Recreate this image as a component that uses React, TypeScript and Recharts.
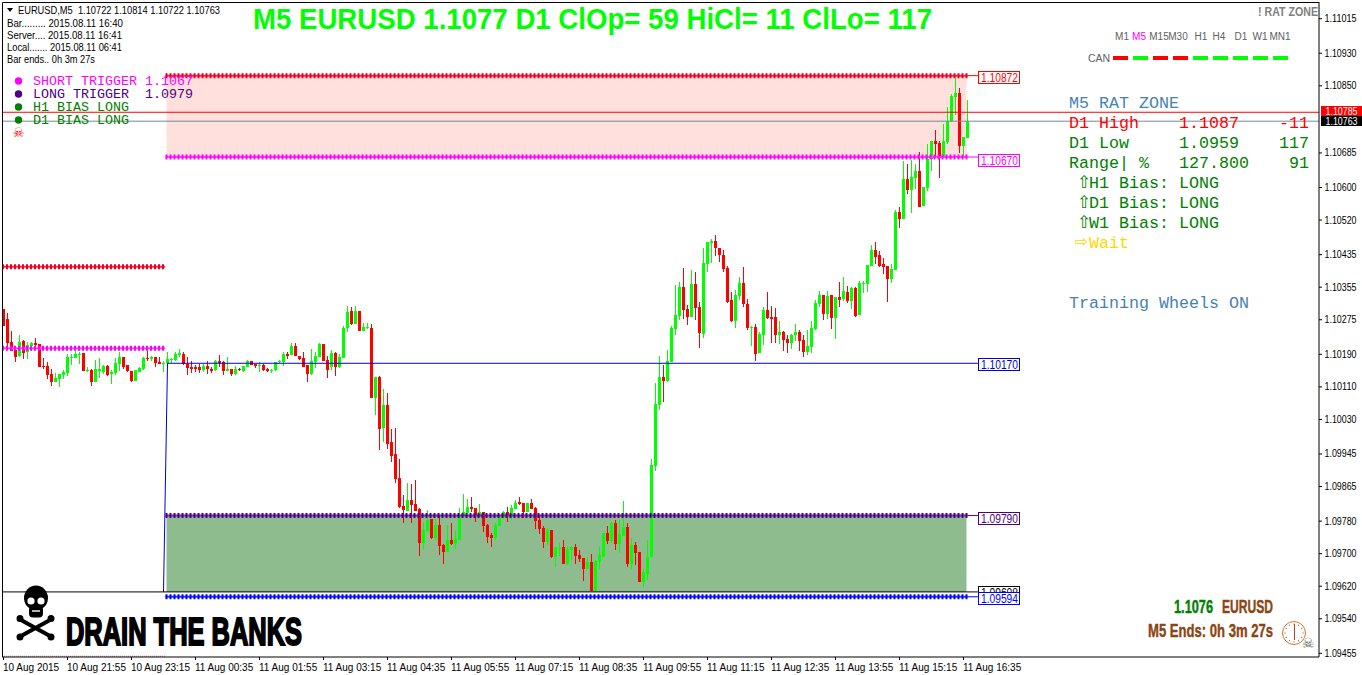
import React from "react";
import {
  Bar,
  ComposedChart,
  ReferenceArea,
  ReferenceDot,
  ReferenceLine,
  XAxis,
  YAxis,
} from "recharts";

// all prices are in points (1.10297 -> 110297)
const opens = [
  110301,110276,110220,110200,110186,110222,110194,110211,110218,110215,
  110161,110161,110141,110122,110129,110138,110143,110181,110180,110190,
  110193,110149,110152,110122,110149,110147,110161,110141,110144,110166,
  110183,110163,110148,110124,110147,110153,110180,110178,110183,110171,
  110167,110167,110176,110175,110188,110190,110166,110158,110158,110158,
  110151,110161,110153,110151,110173,110171,110148,110153,110141,110153,
  110148,110158,110173,110166,110162,110163,110153,110149,110151,110171,
  110171,110190,110188,110210,110185,110180,110163,110141,110171,110183,
  110215,110175,110159,110193,110158,110180,110253,110296,110265,110296,
  110247,110254,110254,110082,110134,110008,110065,109974,109944,109885,
  109816,109804,109831,109821,109809,109725,109755,109784,109738,109770,
  109721,109703,109733,109723,109733,109792,109799,109814,109812,109792,
  109802,109770,109745,109739,109767,109787,109802,109794,109809,109826,
  109824,109802,109824,109812,109782,109762,109728,109757,109691,109712,
  109716,109674,109708,109716,109696,109689,109662,109679,109607,109679,
  109693,109750,109730,109775,109723,109743,109765,109674,109721,109703,
  109630,109652,109691,109915,110065,110134,110124,110171,110252,110284,
  110355,110301,110281,110363,110306,110240,110412,110463,110468,110451,
  110434,110402,110323,110272,110333,110365,110313,110254,110257,110193,
  110237,110299,110281,110281,110237,110245,110227,110218,110237,110245,
  110225,110195,110208,110252,110313,110336,110289,110336,110279,110331,
  110326,110343,110321,110353,110286,110363,110363,110407,110446,110434,
  110412,110407,110375,110397,110539,110522,110620,110593,110623,110640,
  110554,110598,110670,110714,110709,110677,110711,110763,110822,110832,
  110702,110722,
];
const highs = [
  110301,110292,110247,110208,110237,110226,110221,110221,110231,110216,
  110182,110171,110153,110145,110141,110151,110190,110190,110198,110196,
  110193,110159,110155,110175,110180,110163,110163,110151,110180,110196,
  110183,110163,110149,110152,110158,110184,110198,110187,110183,110183,
  110174,110196,110180,110196,110202,110196,110183,110173,110163,110167,
  110167,110173,110158,110175,110188,110173,110183,110155,110162,110157,
  110162,110175,110173,110167,110171,110167,110157,110155,110171,110175,
  110196,110196,110217,110217,110185,110196,110163,110203,110196,110217,
  110215,110185,110200,110195,110190,110259,110308,110306,110308,110296,
  110266,110266,110264,110134,110136,110104,110094,110006,110008,109932,
  109843,109873,109871,109880,109812,109775,109807,109784,109784,109792,
  109723,109770,109775,109755,109812,109846,109834,109839,109812,109821,
  109802,109772,109752,109775,109794,109804,109814,109819,109831,109839,
  109824,109824,109834,109814,109792,109767,109762,109757,109716,109725,
  109733,109716,109718,109723,109708,109689,109691,109698,109684,109716,
  109752,109767,109777,109782,109782,109829,109775,109738,109728,109703,
  109662,109733,109932,110119,110185,110163,110200,110259,110360,110368,
  110402,110311,110397,110392,110318,110451,110466,110473,110483,110451,
  110446,110407,110343,110348,110380,110404,110326,110259,110264,110245,
  110306,110343,110309,110304,110272,110247,110237,110240,110264,110249,
  110237,110249,110272,110323,110345,110336,110345,110336,110331,110368,
  110380,110358,110355,110355,110370,110370,110409,110459,110466,110444,
  110427,110407,110412,110544,110552,110665,110657,110667,110657,110687,
  110601,110708,110714,110741,110714,110756,110797,110829,110869,110844,
  110724,110814,
];
const lows = [
  110260,110212,110198,110171,110182,110179,110179,110200,110204,110159,
  110155,110129,110110,110122,110110,110128,110136,110163,110180,110167,
  110149,110147,110112,110122,110130,110141,110137,110116,110139,110150,
  110154,110146,110122,110124,110145,110153,110174,110175,110158,110166,
  110148,110167,110167,110175,110182,110163,110139,110143,110147,110146,
  110147,110142,110143,110147,110159,110139,110148,110139,110141,110149,
  110148,110158,110162,110158,110146,110151,110146,110146,110148,110167,
  110161,110180,110188,110184,110175,110158,110121,110139,110156,110182,
  110173,110131,110151,110136,110156,110180,110243,110262,110263,110247,
  110247,110252,110082,110040,109954,109974,109957,109925,109873,109812,
  109775,109803,109775,109803,109693,109711,109752,109735,109733,109696,
  109674,109703,109721,109711,109733,109792,109798,109802,109777,109790,
  109752,109725,109718,109733,109767,109784,109777,109782,109808,109819,
  109787,109802,109809,109760,109748,109713,109721,109689,109666,109692,
  109674,109671,109684,109674,109679,109632,109662,109607,109605,109662,
  109693,109723,109725,109708,109701,109743,109666,109662,109671,109630,
  109617,109634,109689,109903,110053,110072,110121,110171,110237,110274,
  110277,110262,110281,110274,110205,110230,110392,110414,110431,110417,
  110392,110316,110269,110254,110323,110306,110249,110210,110173,110193,
  110213,110277,110218,110218,110215,110198,110193,110203,110222,110198,
  110183,110188,110193,110249,110306,110274,110277,110252,110227,110306,
  110321,110316,110301,110281,110286,110340,110343,110407,110412,110404,
  110387,110318,110365,110397,110500,110522,110583,110537,110596,110552,
  110554,110593,110640,110677,110623,110677,110706,110761,110778,110684,
  110674,110722,
];
const closes = [
  110260,110218,110198,110184,110221,110193,110212,110218,110212,110159,
  110159,110139,110122,110131,110141,110146,110183,110183,110190,110192,
  110149,110152,110122,110153,110153,110162,110139,110147,110168,110183,
  110158,110148,110124,110151,110156,110180,110178,110183,110169,110166,
  110169,110178,110178,110190,110193,110166,110156,110153,110153,110151,
  110161,110153,110148,110173,110168,110149,110153,110141,110153,110152,
  110161,110173,110163,110161,110163,110151,110148,110152,110171,110173,
  110190,110185,110210,110185,110178,110158,110141,110173,110185,110215,
  110173,110151,110193,110158,110183,110254,110293,110265,110296,110247,
  110257,110257,110082,110134,110006,110065,109969,109939,109883,109814,
  109807,109831,109819,109804,109725,109757,109782,109738,109770,109718,
  109703,109733,109723,109735,109789,109802,109814,109809,109792,109802,
  109767,109740,109738,109770,109787,109802,109792,109812,109824,109821,
  109802,109824,109809,109780,109760,109728,109757,109691,109716,109714,
  109674,109711,109716,109693,109686,109662,109679,109607,109681,109696,
  109752,109730,109775,109723,109748,109765,109674,109721,109701,109630,
  109654,109693,109917,110067,110134,110124,110173,110254,110286,110355,
  110299,110281,110363,110304,110242,110414,110466,110468,110451,110434,
  110400,110318,110272,110336,110365,110313,110254,110257,110190,110240,
  110299,110279,110277,110237,110245,110225,110218,110237,110245,110222,
  110195,110210,110254,110316,110336,110289,110333,110279,110331,110323,
  110345,110321,110353,110284,110365,110365,110409,110446,110429,110407,
  110404,110375,110400,110539,110522,110620,110593,110625,110640,110552,
  110601,110670,110714,110706,110677,110714,110763,110824,110832,110702,
  110724,110763,
];

const priceTicks = [
  111015,110930,110850,110685,110600,110520,110435,110355,110275,110190,
  110110,110030,109945,109865,109780,109700,109620,109540,109455,
];
const timeTickIndexes = [0,16,32,48,64,80,96,112,128,144,160,176,192,208,224,240];
const timeLabels = [
  "10 Aug 2015","10 Aug 21:55","10 Aug 23:15","11 Aug 00:35","11 Aug 01:55","11 Aug 03:15",
  "11 Aug 04:35","11 Aug 05:55","11 Aug 07:15","11 Aug 08:35","11 Aug 09:55","11 Aug 11:15",
  "11 Aug 12:35","11 Aug 13:55","11 Aug 15:15","11 Aug 16:35",
];

const chartData = opens.map((open, index) => ({
  index,
  open,
  close: closes[index],
  high: highs[index],
  low: lows[index],
  range: [lows[index], highs[index]],
}));

const DOMAIN_X: [number, number] = [-0.375, 328.875];
const DOMAIN_Y: [number, number] = [109446, 111056];
const ZONE_START = 40.75;
const ZONE_END = 240.75;
const TAG_LINE_END = 243.6;
const TAG_CENTER = 249;

const SHORT_LEVEL = 110675;
const HIGH_LEVEL = 110875;
const LONG_LEVEL = 109794;
const LOW_LEVEL = 109606;
const STOP_LEVEL = 109594;
const MID_LEVEL = 110168;

// dotted levels: price, from, to, colour of the blobs, colour of the line under them
const dottedLevels = [
  { price: 110405, from: -0.375, to: 40.4, color: "#f00020", under: "#f03050" },
  { price: 110205, from: -0.375, to: 40.4, color: "#ff00ff", under: "#ff40ff" },
  { price: HIGH_LEVEL, from: 40.5, to: 241, color: "#f00020", under: "#f03050" },
  { price: SHORT_LEVEL, from: 40.5, to: 241, color: "#ff00ff", under: "#ff40ff" },
  { price: LONG_LEVEL, from: 40.5, to: 241, color: "#4b0082", under: "#7030a0" },
  { price: STOP_LEVEL, from: 40.5, to: 241, color: "#0000ff", under: "#2040ff" },
];

const priceTags = [
  { price: HIGH_LEVEL, text: "1.10872", color: "#ff0000", dy: 1.2 },
  { price: SHORT_LEVEL, text: "1.10670", color: "#ff00ff", dy: 3 },
  { price: MID_LEVEL, text: "1.10170", color: "#0000cd", dy: 0.3 },
  { price: LONG_LEVEL, text: "1.09790", color: "#4b0082", dy: 3 },
  { price: LOW_LEVEL, text: "1.09608", color: "#000000", dy: 0.3 },
  { price: STOP_LEVEL, text: "1.09594", color: "#0000ff", dy: 1 },
];

const legendRows = [
  { text: "SHORT TRIGGER 1.1067", color: "#ff00ff", dot: "#ff00ff", y: 81 },
  { text: "LONG TRIGGER  1.0979", color: "#4b0082", dot: "#4b0082", y: 94 },
  { text: "H1 BIAS LONG", color: "#008000", dot: "#008000", y: 107 },
  { text: "D1 BIAS LONG", color: "#008000", dot: "#008000", y: 120 },
];

const infoRows = [
  { text: "Bar......... 2015.08.11 16:40", y: 27, w: 116 },
  { text: "Server.... 2015.08.11 16:41", y: 39, w: 115 },
  { text: "Local....... 2015.08.11 06:41", y: 51, w: 115 },
  { text: "Bar ends.. 0h 3m 27s", y: 63, w: 88 },
];

const timeframes = [
  { text: "M1", x: 1122 },
  { text: "M5", x: 1139 },
  { text: "M15", x: 1159 },
  { text: "M30", x: 1178 },
  { text: "H1", x: 1201 },
  { text: "H4", x: 1219 },
  { text: "D1", x: 1241 },
  { text: "W1", x: 1260 },
  { text: "MN1", x: 1280 },
];
const candleDirections = ["#ff0000","#00ff00","#ff0000","#ff0000","#00ff00","#00ff00","#00ff00","#00ff00","#00ff00"];
const clockHours = [0,30,60,90,120,150,180,210,240,270,300,330];

const SANS = "'Liberation Sans', Arial, sans-serif";
const MONO = "'Liberation Mono', 'Courier New', monospace";
const NARROW = "'Liberation Sans Narrow', 'Liberation Sans', Arial, sans-serif";

const Candle = (props: any) => {
  const { x, y, width, height, payload } = props;
  const { open, close, high, low } = payload;
  const perPoint = high > low ? height / (high - low) : 0;
  const center = Math.floor(x + width / 2);
  const color = close >= open ? "#00ff00" : "#ff0000";
  const wickTop = Math.round(y);
  const wickH = Math.max(1, Math.round(height));
  const bodyTop = Math.round(y + (high - Math.max(open, close)) * perPoint);
  const bodyH = Math.max(1, Math.round(Math.abs(open - close) * perPoint));
  return (
    <g shapeRendering="crispEdges">
      <rect x={center} y={wickTop} width={1} height={wickH} fill={color} />
      <rect x={center - 1} y={bodyTop} width={3} height={bodyH} fill={color} />
    </g>
  );
};

const PriceTag = (props: any) => {
  const { cx, cy, tag } = props;
  const top = Math.round(cy + tag.dy - 6) + 0.5;
  return (
    <g>
      <rect x={cx - 21} y={top} width={41} height={12} fill="#fff" stroke={tag.color} shapeRendering="crispEdges" />
      <text
        x={cx - 18.5}
        y={top + 10}
        fontFamily={SANS}
        fontSize={12}
        fill={tag.color}
        textLength={37}
        lengthAdjust="spacingAndGlyphs"
      >
        {tag.text}
      </text>
    </g>
  );
};

const AxisBox = (props: any) => {
  const { cx, cy, bg, text, top, boxHeight } = props;
  return (
    <g>
      <rect x={cx + 2} y={Math.round(cy) + top} width={41} height={boxHeight} fill={bg} shapeRendering="crispEdges" />
      <text
        x={cx + 6.5}
        y={Math.round(cy) + top + boxHeight - 1.5}
        fontFamily={SANS}
        fontSize={10}
        fill="#fff"
        textLength={32}
        lengthAdjust="spacingAndGlyphs"
      >
        {text}
      </text>
    </g>
  );
};

const TimeTick = (props: any) => {
  const { x, y, index } = props;
  return (
    <text x={x - 0.5} y={y + 9} textAnchor="start" fontFamily={SANS} fontSize={10} fill="#000">
      {timeLabels[index]}
    </text>
  );
};

const PriceTick = (props: any) => {
  const { x, y, payload } = props;
  return (
    <text
      x={x + 0.5}
      y={y + 3.5}
      textAnchor="start"
      fontFamily={SANS}
      fontSize={10}
      fill="#000"
      textLength={32}
      lengthAdjust="spacingAndGlyphs"
    >
      {(payload.value / 100000).toFixed(5)}
    </text>
  );
};

function SkullMark() {
  return (
    <g>
      <g stroke="#000" strokeWidth={4} strokeLinecap="round">
        <path d="M21 620L50 636M50 620L21 636" />
        <circle cx={20} cy={618.5} r={1.5} />
        <circle cx={51} cy={618.5} r={1.5} />
        <circle cx={20} cy={637} r={1.5} />
        <circle cx={51} cy={637} r={1.5} />
      </g>
      <ellipse cx={36} cy={598} rx={12} ry={12.5} fill="#000" />
      <rect x={29} y={606} width={14} height={11.5} rx={4} fill="#000" />
      <circle cx={31} cy={601} r={3.6} fill="#fff" />
      <circle cx={41} cy={601} r={3.6} fill="#fff" />
      <path d="M32 611h8" stroke="#fff" strokeWidth={1.4} />
    </g>
  );
}

function Overlay() {
  return (
    <svg
      width={1362}
      height={675}
      style={{ position: "absolute", left: 0, top: 0, pointerEvents: "none" }}
    >
      <path d="M2.5 657V2.5H1319" fill="none" stroke="#000" />

      <text x={253} y={29} fontFamily={SANS} fontWeight={700} fontSize={29} fill="#00ff00" textLength={679} lengthAdjust="spacingAndGlyphs">
        M5 EURUSD 1.1077 D1 ClOp= 59 HiCl= 11 ClLo= 117
      </text>

      <path d="M7 8h6l-3 4z" fill="#000" />
      <text x={18} y={14} fontFamily={SANS} fontSize={10.5} fill="#000" textLength={202} lengthAdjust="spacingAndGlyphs" style={{ whiteSpace: "pre" }}>
        EURUSD,M5  1.10722 1.10814 1.10722 1.10763
      </text>
      {infoRows.map((row) => (
        <text key={row.text} x={7} y={row.y} fontFamily={SANS} fontSize={10.5} fill="#000" textLength={row.w} lengthAdjust="spacingAndGlyphs">
          {row.text}
        </text>
      ))}

      {legendRows.map((row) => (
        <g key={row.text}>
          <circle cx={18.5} cy={row.y} r={3.7} fill={row.dot} />
          <text x={33} y={row.y + 4} fontFamily={MONO} fontSize={13.33} fill={row.color} style={{ whiteSpace: "pre" }}>
            {row.text}
          </text>
        </g>
      ))}
      <text x={18.5} y={137} textAnchor="middle" fontFamily="'DejaVu Sans'" fontSize={13} fill="#ff0000">
        ☠
      </text>

      <text x={1258} y={15.5} fontFamily={SANS} fontWeight={700} fontSize={12} fill="#808080" textLength={60} lengthAdjust="spacingAndGlyphs">
        ! RAT ZONE
      </text>
      {timeframes.map((tf) => (
        <text key={tf.text} x={tf.x} y={40} textAnchor="middle" fontFamily={SANS} fontSize={10} fill={tf.text === "M5" ? "#ff00ff" : "#606060"}>
          {tf.text}
        </text>
      ))}
      <text x={1099} y={62} textAnchor="middle" fontFamily={SANS} fontSize={10.5} fill="#606060">
        CAN
      </text>
      {candleDirections.map((color, i) => (
        <rect key={i} x={1113 + i * 20} y={56} width={15} height={4} fill={color} />
      ))}

      <g fontFamily={MONO} fontSize={16.67} style={{ whiteSpace: "pre" }}>
        <text x={1069} y={108} fill="#4682b4">M5 RAT ZONE</text>
        <text x={1069} y={128} fill="#ff0000">D1 High</text>
        <text x={1179} y={128} fill="#ff0000">1.1087</text>
        <text x={1309} y={128} fill="#ff0000" textAnchor="end">-11</text>
        <text x={1069} y={148} fill="#008000">D1 Low</text>
        <text x={1179} y={148} fill="#008000">1.0959</text>
        <text x={1309} y={148} fill="#008000" textAnchor="end">117</text>
        <text x={1069} y={168} fill="#008000">Range| %</text>
        <text x={1179} y={168} fill="#008000">127.800</text>
        <text x={1309} y={168} fill="#008000" textAnchor="end">91</text>
        {["H1", "D1", "W1"].map((tf, i) => (
          <g key={tf}>
            <text x={1077} y={188 + i * 20} fontFamily="'DejaVu Sans'" fontSize={17} fill="#008000">⇧</text>
            <text x={1089} y={188 + i * 20} fill="#008000">{tf + " Bias: LONG"}</text>
          </g>
        ))}
        <text x={1075} y={247} fontFamily="'DejaVu Sans'" fontSize={16} fill="#ffd700">⇨</text>
        <text x={1089} y={248} fill="#ffd700">Wait</text>
        <text x={1069} y={308} fill="#4682b4">Training Wheels ON</text>
      </g>

      <SkullMark />
      <text x={66} y={645} fontFamily={SANS} fontWeight={700} fontSize={39} fill="#000" stroke="#000" strokeWidth={2} textLength={236} lengthAdjust="spacingAndGlyphs">
        DRAIN THE BANKS
      </text>

      <text x={1174} y={612.5} fontFamily={NARROW} fontWeight={700} fontSize={18} fill="#008000" stroke="#008000" strokeWidth={0.4} textLength={39} lengthAdjust="spacingAndGlyphs">
        1.1076
      </text>
      <text x={1222} y={612.5} fontFamily={NARROW} fontWeight={700} fontSize={18} fill="#8b4513" stroke="#8b4513" strokeWidth={0.4} textLength={51} lengthAdjust="spacingAndGlyphs">
        EURUSD
      </text>
      <text x={1148} y={636.5} fontFamily={NARROW} fontWeight={700} fontSize={18} fill="#8b4513" stroke="#8b4513" strokeWidth={0.4} textLength={125} lengthAdjust="spacingAndGlyphs">
        M5 Ends: 0h 3m 27s
      </text>

      <circle cx={1294} cy={633} r={11.5} fill="#fff" stroke="#c87830" />
      {clockHours.map((deg) => (
        <rect key={deg} x={1293.5} y={623.5} width={1} height={1} fill="#b5451d" transform={`rotate(${deg} 1294 633)`} />
      ))}
      <path d="M1294.5 624v9M1294.5 633v7" stroke="#b5451d" />
      <text x={1308} y={648} textAnchor="middle" fontFamily="'DejaVu Sans'" fontSize={14} fill="#606060">
        ☠
      </text>
    </svg>
  );
}

export default function App() {
  return (
    <div style={{ position: "absolute", left: 0, top: 0, width: 1362, height: 675, background: "#fff" }}>
      <ComposedChart
        width={1362}
        height={675}
        data={chartData}
        margin={{ top: 2, left: 2, right: 0, bottom: 0 }}
        barSize={3}
      >
        <XAxis
          dataKey="index"
          type="number"
          domain={DOMAIN_X}
          allowDataOverflow
          ticks={timeTickIndexes}
          tick={TimeTick}
          tickSize={3}
          height={18}
          interval={0}
          stroke="#000"
        />
        <YAxis
          orientation="right"
          type="number"
          domain={DOMAIN_Y}
          allowDataOverflow
          ticks={priceTicks}
          width={43}
          interval={0}
          tickSize={3}
          stroke="#000"
          tick={PriceTick}
        />

        <ReferenceArea x1={ZONE_START} x2={ZONE_END} y1={SHORT_LEVEL} y2={HIGH_LEVEL} fill="#ffe0dc" fillOpacity={1} stroke="none" />
        <ReferenceArea x1={ZONE_START} x2={ZONE_END} y1={LOW_LEVEL} y2={LONG_LEVEL} fill="#8fbc8f" fillOpacity={1} stroke="none" />

        <Bar dataKey="range" shape={<Candle />} isAnimationActive={false} />

        <ReferenceLine y={110785} stroke="#ff0000" />
        <ReferenceLine y={110763} stroke="#778899" />
        <ReferenceLine segment={[{ x: 41, y: MID_LEVEL }, { x: TAG_LINE_END, y: MID_LEVEL }]} stroke="#0000cd" />
        <ReferenceLine segment={[{ x: 41, y: MID_LEVEL }, { x: 40, y: LOW_LEVEL }]} stroke="#0000cd" />
        <ReferenceLine segment={[{ x: -0.375, y: LOW_LEVEL }, { x: TAG_LINE_END, y: LOW_LEVEL }]} stroke="#000" />
        <ReferenceLine segment={[{ x: -0.375, y: 109448 }, { x: 40.4, y: 109448 }]} stroke="#e07090" strokeDasharray="1 1" />

        {dottedLevels.map((level) => (
          <ReferenceLine
            key={`line-${level.price}`}
            segment={[{ x: level.from, y: level.price }, { x: level.to, y: level.price }]}
            stroke={level.under}
            strokeWidth={2}
          />
        ))}
        {dottedLevels.map((level) => (
          <ReferenceLine
            key={`blob-${level.price}`}
            segment={[{ x: level.from, y: level.price }, { x: level.to, y: level.price }]}
            stroke={level.color}
            strokeWidth={5}
            strokeDasharray="2 2"
          />
        ))}

        {[priceTags[0], priceTags[1], priceTags[3], priceTags[5]].map((tag) => (
          <ReferenceLine
            key={`lead-${tag.price}`}
            segment={[{ x: 241, y: tag.price }, { x: TAG_LINE_END, y: tag.price }]}
            stroke={tag.color}
          />
        ))}
        {priceTags.map((tag) => (
          <ReferenceDot
            key={tag.text}
            x={TAG_CENTER}
            y={tag.price}
            ifOverflow="visible"
            shape={<PriceTag tag={tag} />}
          />
        ))}
        <ReferenceDot x={DOMAIN_X[1]} y={110785} ifOverflow="visible" shape={<AxisBox bg="#ff0000" text="1.10785" top={-6} boxHeight={10} />} />
        <ReferenceDot x={DOMAIN_X[1]} y={110763} ifOverflow="visible" shape={<AxisBox bg="#000000" text="1.10763" top={-5} boxHeight={10} />} />
      </ComposedChart>
      <Overlay />
    </div>
  );
}
